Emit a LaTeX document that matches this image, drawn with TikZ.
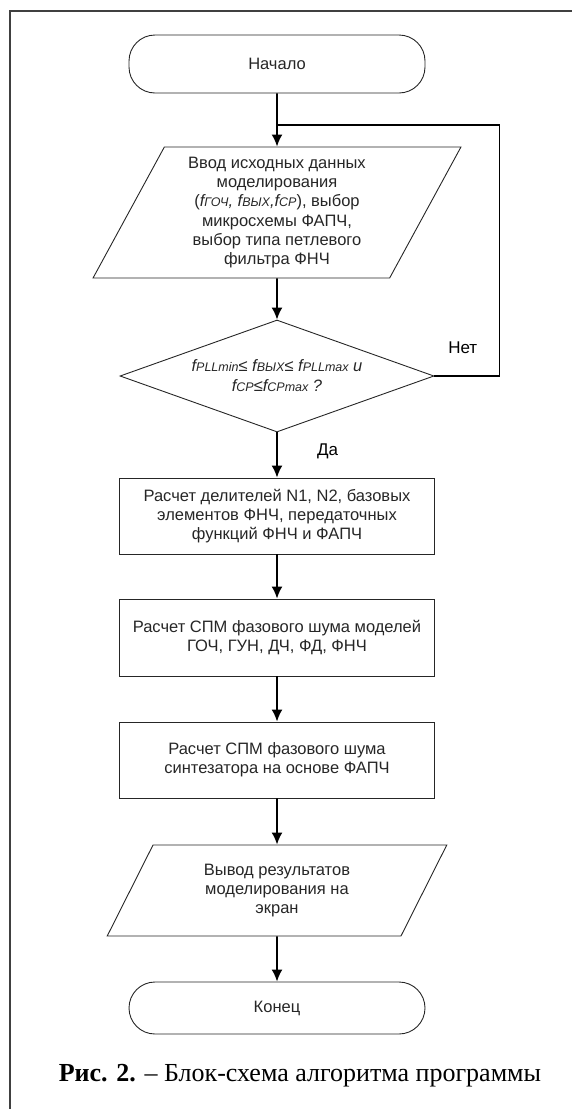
\documentclass[tikz,border=0pt]{standalone}
\usepackage{fontspec}
\setmainfont{Liberation Sans}
\newfontfamily\capfont{Liberation Serif}
\usetikzlibrary{shapes.geometric,arrows.meta}
\tikzset{>={Latex[length=12pt,width=11pt]}}
\colorlet{outline}{black!85}
\newcommand{\fidx}[1]{{\fontsize{12.5}{12.5}\selectfont #1}}
\newcommand{\boxfont}{\fontsize{16.5}{19.1}\selectfont}
\tikzset{
  term/.style={draw=outline, line width=0.9pt, rectangle, rounded corners=26pt,
    minimum width=296pt, font=\boxfont, text=outline},
  io/.style={draw=outline, line width=0.9pt, trapezium, trapezium left angle=63,
    trapezium right angle=117, trapezium stretches=true, inner sep=0pt,
    align=center, font=\boxfont, text=outline},
  proc/.style={draw=outline, line width=0.9pt, rectangle, minimum width=315pt,
    align=center, font=\boxfont, text=outline},
  cond/.style={draw=outline, line width=0.9pt, diamond, aspect=2.8, inner sep=0pt,
    minimum width=314pt, minimum height=112pt, align=center,
    font=\fontsize{16.5}{20}\selectfont\itshape, text=outline},
  flow/.style={->, line width=1.7pt},
  lbl/.style={font=\fontsize{17}{20}\selectfont}
}

\begin{document}
\begin{tikzpicture}[x=1pt,y=-1pt]
    \useasboundingbox (0,0) rectangle (572,1109);
    \draw[line width=1.2pt, black!75] (10,1109) -- (10,11) -- (572,11);

    \node[term, minimum height=58pt] (start) at (277,64) {Начало};
    \node[io, minimum width=368pt, minimum height=131pt] (input) at (277,212.5)
      {Ввод исходных данных\\моделирования\\(\textit{f\fidx{ГОЧ}, f\fidx{ВЫХ},f\fidx{СР}}), выбор\\микросхемы ФАПЧ,\\выбор типа петлевого\\фильтра ФНЧ};
    \node[cond] (check) at (277,376)
      {f\fidx{PLLmin}≤ f\fidx{ВЫХ}≤ f\fidx{PLLmax} и\\f\fidx{СР}≤f\fidx{СРmax} ?};
    \node[proc, minimum height=76pt] (divs) at (277,516)
      {Расчет делителей N1, N2, базовых\\элементов ФНЧ, передаточных\\функций ФНЧ и ФАПЧ};
    \node[proc, minimum height=77pt] (models) at (277,637.5)
      {Расчет СПМ фазового шума моделей\\ГОЧ, ГУН, ДЧ, ФД, ФНЧ};
    \node[proc, minimum height=76pt] (synth) at (277,760)
      {Расчет СПМ фазового шума\\синтезатора на основе ФАПЧ};
    \node[io, minimum width=340pt, minimum height=91pt] (output) at (277,890.5)
      {Вывод результатов\\моделирования на\\экран};
    \node[term, minimum height=52pt] (finish) at (277,1008) {Конец};

    \coordinate (join) at (277,125);
    \draw[flow] (start.south) -- (input.north);
    \draw[flow] (input.south) -- (check.north);
    \draw[line width=1.7pt] (check.east) -- ++(65,0)
      node[lbl, anchor=base east, xshift=-18pt, yshift=23pt] {Нет} |- (join);
    \draw[flow] (check.south) -- node[lbl, pos=0.52, anchor=base west, xshift=36pt] {Да} (divs.north);
    \draw[flow] (divs.south) -- (models.north);
    \draw[flow] (models.south) -- (synth.north);
    \draw[flow] (synth.south) -- (output.north);
    \draw[flow] (output.south) -- (finish.north);

    \node[anchor=base, font=\capfont\fontsize{26}{29}\selectfont] (caption) at (300,1081)
      {\textbf{Рис. 2.} – Блок-схема алгоритма программы};
\end{tikzpicture}
\end{document}
